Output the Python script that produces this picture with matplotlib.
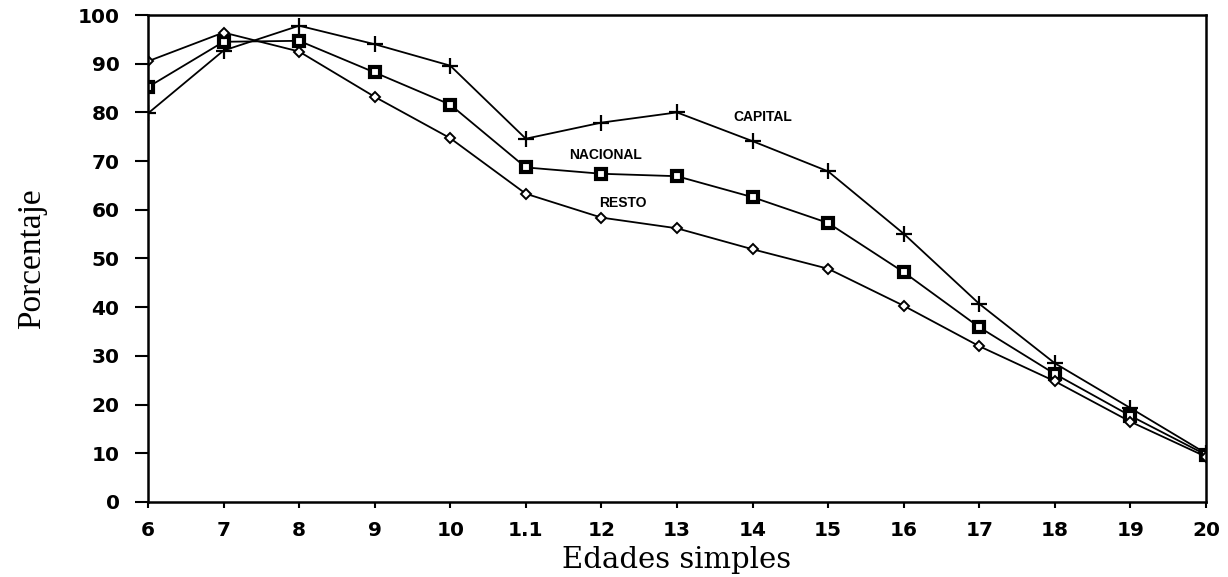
import matplotlib.pyplot as plt
import numpy as np

# Data
edades = [6, 7, 8, 9, 10, 11, 12, 13, 14, 15, 16, 17, 18, 19, 20]
etiquetas = ["6", "7", "8", "9", "10", "1.1", "12", "13", "14", "15",
             "16", "17", "18", "19", "20"]
capital = [79.8, 92.7, 97.8, 94, 89.6, 74.6, 77.9, 80, 74.1, 67.9, 55.1, 40.7, 28.5, 19.3, 10]
nacional = [85.2, 94.5, 94.7, 88.2, 81.6, 68.7, 67.4, 66.9, 62.6, 57.3, 47.2, 35.9, 26.3, 17.7, 9.7]
resto = [90.5, 96.4, 92.5, 83.2, 74.7, 63.3, 58.4, 56.2, 51.9, 47.9, 40.3, 32, 24.8, 16.5, 9.3]

fig = plt.figure(figsize=(12.28, 5.77), dpi=100)
ax = fig.add_axes([0.1205, 0.13, 0.8615, 0.844])

ax.plot(edades, capital, color="black", lw=1.3, marker="+", ms=11, mew=1.6)
ax.plot(edades, nacional, color="black", lw=1.3, marker="s", ms=6.5,
        mfc="white", mec="black", mew=3)
ax.plot(edades, resto, color="black", lw=1.3, marker="D", ms=5,
        mfc="white", mec="black", mew=1.4)

# series labels
for x, y, txt in [(14.14, 79.1, "CAPITAL"), (12.05, 71.2, "NACIONAL"),
                  (12.29, 61.3, "RESTO")]:
    ax.text(x, y, txt, fontsize=10, family="Liberation Sans", weight="bold",
            ha="center", va="center")

ax.set_xlim(6, 20)
ax.set_ylim(0, 100)
ax.set_xticks(edades)
ax.set_xticklabels(etiquetas)
ax.set_yticks(np.arange(0, 101, 10))
for lab in ax.get_xticklabels() + ax.get_yticklabels():
    lab.set_family("DejaVu Sans")
    lab.set_weight("bold")
    lab.set_fontsize(14.5)
ax.tick_params(axis="y", direction="out", length=9.5, width=1.5, pad=11)
ax.tick_params(axis="x", direction="out", length=4, width=1.5, pad=10)

for s in ax.spines.values():
    s.set_linewidth(1.8)

ax.set_xlabel("Edades simples", family="DejaVu Serif", fontsize=21, labelpad=4)
ax.set_ylabel("Porcentaje", family="Liberation Serif", fontsize=24, labelpad=22)

fig.savefig("out.png", dpi=100)
